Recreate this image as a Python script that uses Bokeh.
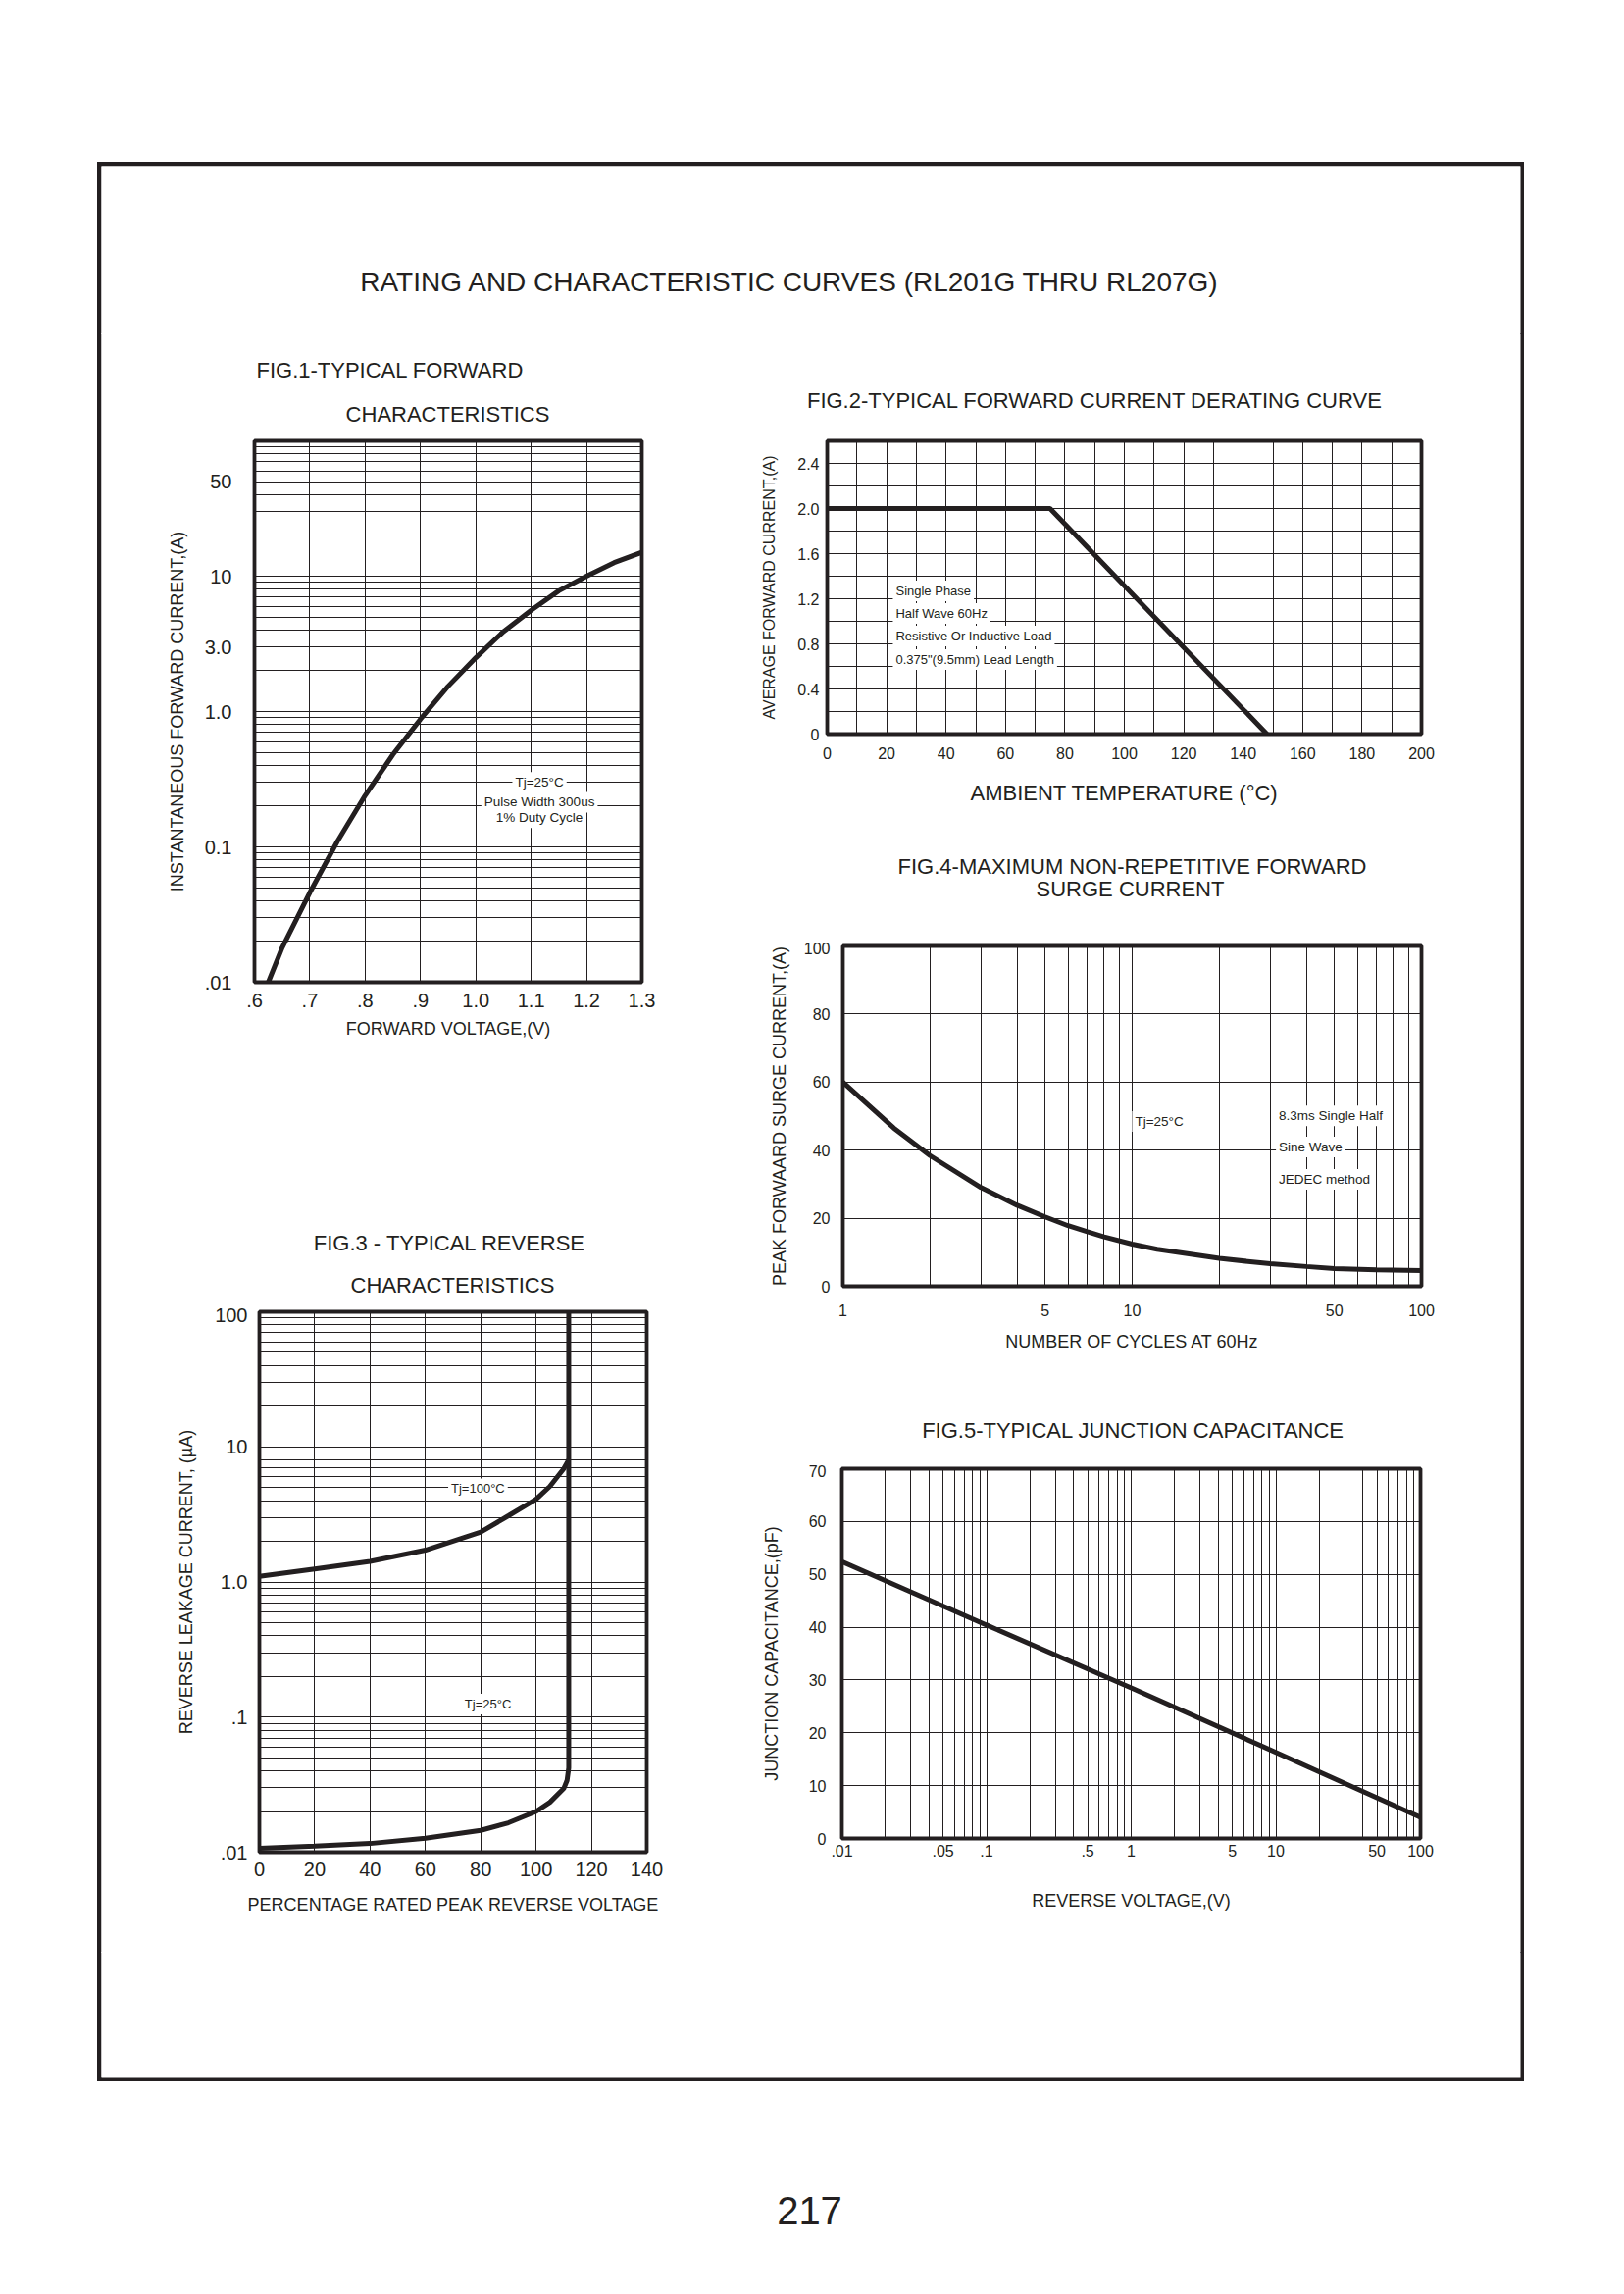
from bokeh.plotting import figure
from bokeh.layouts import column, row
from bokeh.models import Spacer, FixedTicker, Range1d, Label, CustomJSTickFormatter
from bokeh.embed import file_html
from bokeh.resources import INLINE

FONT = "Liberation Sans"
INK = "#231f20"

# ---------------- data ----------------
# FIG.1 typical forward characteristics
fig1_voltage = [0.625, 0.65, 0.70, 0.75, 0.80, 0.85, 0.90, 0.95, 1.00, 1.05, 1.10, 1.15, 1.20, 1.25, 1.30]
fig1_current = [0.010, 0.018, 0.046, 0.11, 0.24, 0.48, 0.88, 1.54, 2.5, 3.9, 5.6, 7.8, 10.0, 12.6, 15.0]
fig1_xticks = [0.6, 0.7, 0.8, 0.9, 1.0, 1.1, 1.2, 1.3]
fig1_xlabels = [".6", ".7", ".8", ".9", "1.0", "1.1", "1.2", "1.3"]
fig1_yticks = [0.01, 0.1, 1.0, 3.0, 10.0, 50.0]
fig1_ylabels = [".01", "0.1", "1.0", "3.0", "10", "50"]

# FIG.2 derating curve
fig2_temp = [0, 75, 148]
fig2_current = [2.0, 2.0, 0.0]
fig2_xticks = [0, 20, 40, 60, 80, 100, 120, 140, 160, 180, 200]
fig2_xlabels = ["0", "20", "40", "60", "80", "100", "120", "140", "160", "180", "200"]
fig2_yticks = [0, 0.4, 0.8, 1.2, 1.6, 2.0, 2.4]
fig2_ylabels = ["0", "0.4", "0.8", "1.2", "1.6", "2.0", "2.4"]

# FIG.3 reverse characteristics
fig3_pct_100 = [0, 20, 40, 60, 80, 90, 100, 105, 110, 111.8]
fig3_cur_100 = [1.10, 1.25, 1.42, 1.72, 2.34, 3.09, 4.1, 5.1, 6.9, 8.0]
fig3_pct_25 = [0, 20, 40, 60, 80, 90, 100, 105, 110, 111.2, 111.8, 111.8]
fig3_cur_25 = [0.0107, 0.0111, 0.0116, 0.0127, 0.0145, 0.0165, 0.0200, 0.0234, 0.0296, 0.034, 0.042, 100]
fig3_xticks = [0, 20, 40, 60, 80, 100, 120, 140]
fig3_xlabels = ["0", "20", "40", "60", "80", "100", "120", "140"]
fig3_yticks = [0.01, 0.1, 1.0, 10.0, 100.0]
fig3_ylabels = [".01", ".1", "1.0", "10", "100"]

# FIG.4 surge current
fig4_cycles = [1, 1.5, 2, 3, 4, 5, 6, 7, 8, 10, 12.2, 20, 30, 40, 50, 70, 100]
fig4_surge = [60, 46.5, 38.4, 29.0, 23.8, 20.4, 17.8, 16.0, 14.5, 12.4, 10.9, 8.2, 6.6, 5.8, 5.2, 4.8, 4.6]
fig4_xticks = [1, 5, 10, 50, 100]
fig4_xlabels = ["1", "5", "10", "50", "100"]
fig4_yticks = [0, 20, 40, 60, 80, 100]
fig4_ylabels = ["0", "20", "40", "60", "80", "100"]

# FIG.5 junction capacitance
fig5_voltage = [0.01, 0.1, 1, 10, 100]
fig5_cap = [52.4, 40.4, 28.5, 16.3, 4.0]
fig5_xticks = [0.01, 0.05, 0.1, 0.5, 1, 5, 10, 50, 100]
fig5_xlabels = [".01", ".05", ".1", ".5", "1", "5", "10", "50", "100"]
fig5_yticks = [0, 10, 20, 30, 40, 50, 60, 70]
fig5_ylabels = ["0", "10", "20", "30", "40", "50", "60", "70"]


# ---------------- helpers ----------------
def log_grid(lo_exp, hi_exp):
    vals = []
    for e in range(lo_exp, hi_exp):
        for m in range(1, 10):
            vals.append(m * 10.0 ** e)
    vals.append(10.0 ** hi_exp)
    return vals


def lin_grid(lo, hi, step):
    n = int(round((hi - lo) / step))
    return [lo + i * step for i in range(n + 1)]


def fmt(ticks, labels):
    return CustomJSTickFormatter(args=dict(tvals=ticks, tlabels=labels), code="""
        for (let i = 0; i < tvals.length; i++) {
            if (Math.abs(tvals[i] - tick) <= 1e-9 * Math.max(1, Math.abs(tick))) { return tlabels[i]; }
        }
        return "";
    """)


def chart(x_type, y_type, xr, yr, fw, fh, left, right, top, bottom):
    return figure(x_axis_type=x_type, y_axis_type=y_type,
                  x_range=Range1d(*xr), y_range=Range1d(*yr),
                  frame_width=fw, frame_height=fh,
                  min_border_left=left, min_border_right=right,
                  min_border_top=top, min_border_bottom=bottom,
                  toolbar_location=None, output_backend="svg", title=None,
                  background_fill_color="white", border_fill_color="white",
                  outline_line_color=INK, outline_line_width=3.8)


def style(p, xt, xl, yt, yl, xgrid, ygrid, tick_size, xlab, ylab, xlab_size, ylab_size,
          x_st, y_st, xl_st, yl_st):
    for ax, ticks, labels, st, lab, lsize, lst in (
            (p.xaxis[0], xt, xl, x_st, xlab, xlab_size, xl_st),
            (p.yaxis[0], yt, yl, y_st, ylab, ylab_size, yl_st)):
        ax.ticker = FixedTicker(ticks=ticks)
        ax.formatter = fmt(ticks, labels)
        ax.major_tick_in = 0
        ax.major_tick_out = 0
        ax.minor_tick_in = 0
        ax.minor_tick_out = 0
        ax.axis_line_color = None
        ax.major_label_text_font = FONT
        ax.major_label_text_font_size = tick_size
        ax.major_label_text_color = INK
        ax.major_label_standoff = st
        ax.axis_label = lab
        ax.axis_label_text_font = FONT
        ax.axis_label_text_font_size = lsize
        ax.axis_label_text_font_style = "normal"
        ax.axis_label_text_color = INK
        ax.axis_label_standoff = lst
    p.xgrid[0].ticker = FixedTicker(ticks=xgrid)
    p.ygrid[0].ticker = FixedTicker(ticks=ygrid)
    for g in (p.xgrid[0], p.ygrid[0]):
        g.grid_line_color = INK
        g.grid_line_width = 1
        g.grid_line_alpha = 1.0


def note(p, text, x, y, align="center", size="13.5px"):
    p.add_layout(Label(x=x, y=y, text=text, text_align=align, text_baseline="middle",
                       text_font=FONT, text_font_size=size, text_color=INK,
                       background_fill_color="white", padding=3))


def textfig(w, h, items, left=0, right=0, top=0, bottom=0):
    """A plain figure used only to hold page/figure titles (labels in frame pixels);
    its border area (if any) is painted black and forms the page frame."""
    f = figure(width=w, height=h, toolbar_location=None, output_backend="svg", title=None,
               x_axis_type=None, y_axis_type=None,
               min_border_left=left, min_border_right=right,
               min_border_top=top, min_border_bottom=bottom,
               outline_line_color=None, background_fill_color="white",
               border_fill_color=INK)
    for text, x, y, align, size in items:
        f.add_layout(Label(x=x, y=y, x_units="screen", y_units="screen", text=text,
                           text_align=align, text_baseline="middle", text_font=FONT,
                           text_font_size=size, text_color=INK))
    return f


CURVE_W = 5

# ---------------- FIG.1 ----------------
p1 = chart("linear", "log", (0.6, 1.3), (0.01, 100), 395, 552, 99, 91, 4, 79)
style(p1, fig1_xticks, fig1_xlabels, fig1_yticks, fig1_ylabels,
      lin_grid(0.6, 1.3, 0.1), log_grid(-2, 2), "20px",
      "FORWARD VOLTAGE,(V)", "INSTANTANEOUS FORWARD CURRENT,(A)", "18px", "18px",
      11, 23, 9, 15)
p1.line(fig1_voltage, fig1_current, line_width=CURVE_W, line_color=INK)
note(p1, "Tj=25°C", 1.115, 0.30)
note(p1, "Pulse Width 300us", 1.115, 0.214)
note(p1, "1% Duty Cycle", 1.115, 0.164)
t1 = textfig(591, 105, [("FIG.1-TYPICAL FORWARD", 102, 68, "left", "22px"),
                        ("CHARACTERISTICS", 297, 23, "center", "22px")])

# ---------------- FIG.2 ----------------
p2 = chart("linear", "linear", (0, 200), (0, 2.6), 606, 299, 92, 45, 4, 82)
style(p2, fig2_xticks, fig2_xlabels, fig2_yticks, fig2_ylabels,
      lin_grid(0, 200, 10), lin_grid(0, 2.6, 0.2), "16px",
      "AMBIENT TEMPERATURE (°C)", "AVERAGE FORWARD CURRENT,(A)", "22px", "16px",
      13, 8, 19, 17)
p2.line(fig2_temp, fig2_current, line_width=CURVE_W, line_color=INK)
note(p2, "Single Phase", 22.1, 1.27, align="left", size="13px")
note(p2, "Half Wave 60Hz", 22.1, 1.07, align="left", size="13px")
note(p2, "Resistive Or Inductive Load", 22.1, 0.87, align="left", size="13px")
note(p2, "0.375\"(9.5mm) Lead Length", 22.1, 0.66, align="left", size="13px")
t2 = textfig(744, 105, [("FIG.2-TYPICAL FORWARD CURRENT DERATING CURVE", 366, 37, "center", "22px")])

# ---------------- FIG.3 ----------------
p3 = chart("linear", "log", (0, 140), (0.01, 100), 395, 551, 99, 91, 4, 102)
style(p3, fig3_xticks, fig3_xlabels, fig3_yticks, fig3_ylabels,
      lin_grid(0, 140, 20), log_grid(-2, 2), "20px",
      "PERCENTAGE RATED PEAK REVERSE VOLTAGE", "REVERSE LEAKAGE CURRENT, (µA)", "18px", "18px",
      10, 12, 16, 16)
p3.line(fig3_pct_100, fig3_cur_100, line_width=CURVE_W, line_color=INK)
p3.line(fig3_pct_25, fig3_cur_25, line_width=CURVE_W, line_color=INK)
note(p3, "Tj=100°C", 79, 4.9, size="13px")
note(p3, "Tj=25°C", 82.6, 0.125, size="13px")
t3 = textfig(591, 153, [("FIG.3 - TYPICAL REVERSE", 299, 66, "center", "22px"),
                        ("CHARACTERISTICS", 302, 23, "center", "22px")])

# ---------------- FIG.4 ----------------
p4 = chart("log", "linear", (1, 100), (0, 100), 590, 347, 92, 45, 4, 89)
style(p4, fig4_xticks, fig4_xlabels, fig4_yticks, fig4_ylabels,
      log_grid(0, 2), lin_grid(0, 100, 20), "16px",
      "NUMBER OF CYCLES AT 60Hz", "PEAK FORWAARD SURGE CURRENT,(A)", "18px", "18px",
      18, 13, 13, 12)
p4.line(fig4_cycles, fig4_surge, line_width=CURVE_W, line_color=INK)
note(p4, "Tj=25°C", 12.4, 48.4)
note(p4, "8.3ms Single Half", 31.4, 50.1, align="left")
note(p4, "Sine Wave", 31.4, 40.9, align="left")
note(p4, "JEDEC method", 31.4, 31.4, align="left")
t4 = textfig(744, 130, [("FIG.4-MAXIMUM NON-REPETITIVE FORWARD", 404, 77, "center", "22px"),
                        ("SURGE CURRENT", 402, 54, "center", "22px")])

# ---------------- FIG.5 ----------------
p5 = chart("log", "linear", (0.01, 100), (0, 70), 590, 377, 92, 45, 4, 116)
style(p5, fig5_xticks, fig5_xlabels, fig5_yticks, fig5_ylabels,
      log_grid(-2, 2), lin_grid(0, 70, 10), "16px",
      "REVERSE VOLTAGE,(V)", "JUNCTION CAPACITANCE,(pF)", "18px", "18px",
      6, 16, 32, 25)
p5.line(fig5_voltage, fig5_cap, line_width=CURVE_W, line_color=INK)
t5 = textfig(744, 93, [("FIG.5-TYPICAL JUNCTION CAPACITANCE", 405, 35, "center", "22px")])

# ---------------- page ----------------
header = textfig(1455, 175, [("RATING AND CHARACTERISTIC CURVES (RL201G THRU RL207G)", 702, 53, "center", "28px")],
                 left=4, right=4, top=4, bottom=0)
footer = textfig(1455, 132, [], left=4, right=4, top=0, bottom=4)
strip_left = textfig(60, 1650, [], left=4)
strip_right = textfig(60, 1650, [], right=4)
numfig = textfig(200, 70, [("217", 100, 37, "center", "40px")])
numfig.border_fill_color = "white"

left_col = column(t1, row(Spacer(width=1, height=10), p1),
                  Spacer(width=591, height=100),
                  t3, row(Spacer(width=6, height=10), p3))
right_col = column(t2, row(Spacer(width=1, height=10), p2),
                   t4, row(Spacer(width=17, height=10), p4),
                   t5, row(Spacer(width=16, height=10), p5))
middle = row(strip_left, left_col, right_col, strip_right)
# page frame: drawn by the black border areas of header/footer/strips, reinforced by a CSS outline
box = column(header, middle, footer,
             styles={"outline": "4px solid " + INK, "outline-offset": "-4px"})

page = column(
    Spacer(width=10, height=165),
    row(Spacer(width=99, height=10), box),
    Spacer(width=10, height=98),
    row(Spacer(width=725, height=10), numfig),
)

open("out.html", "w").write(file_html(page, INLINE, title="RL201G - RL207G curves"))
